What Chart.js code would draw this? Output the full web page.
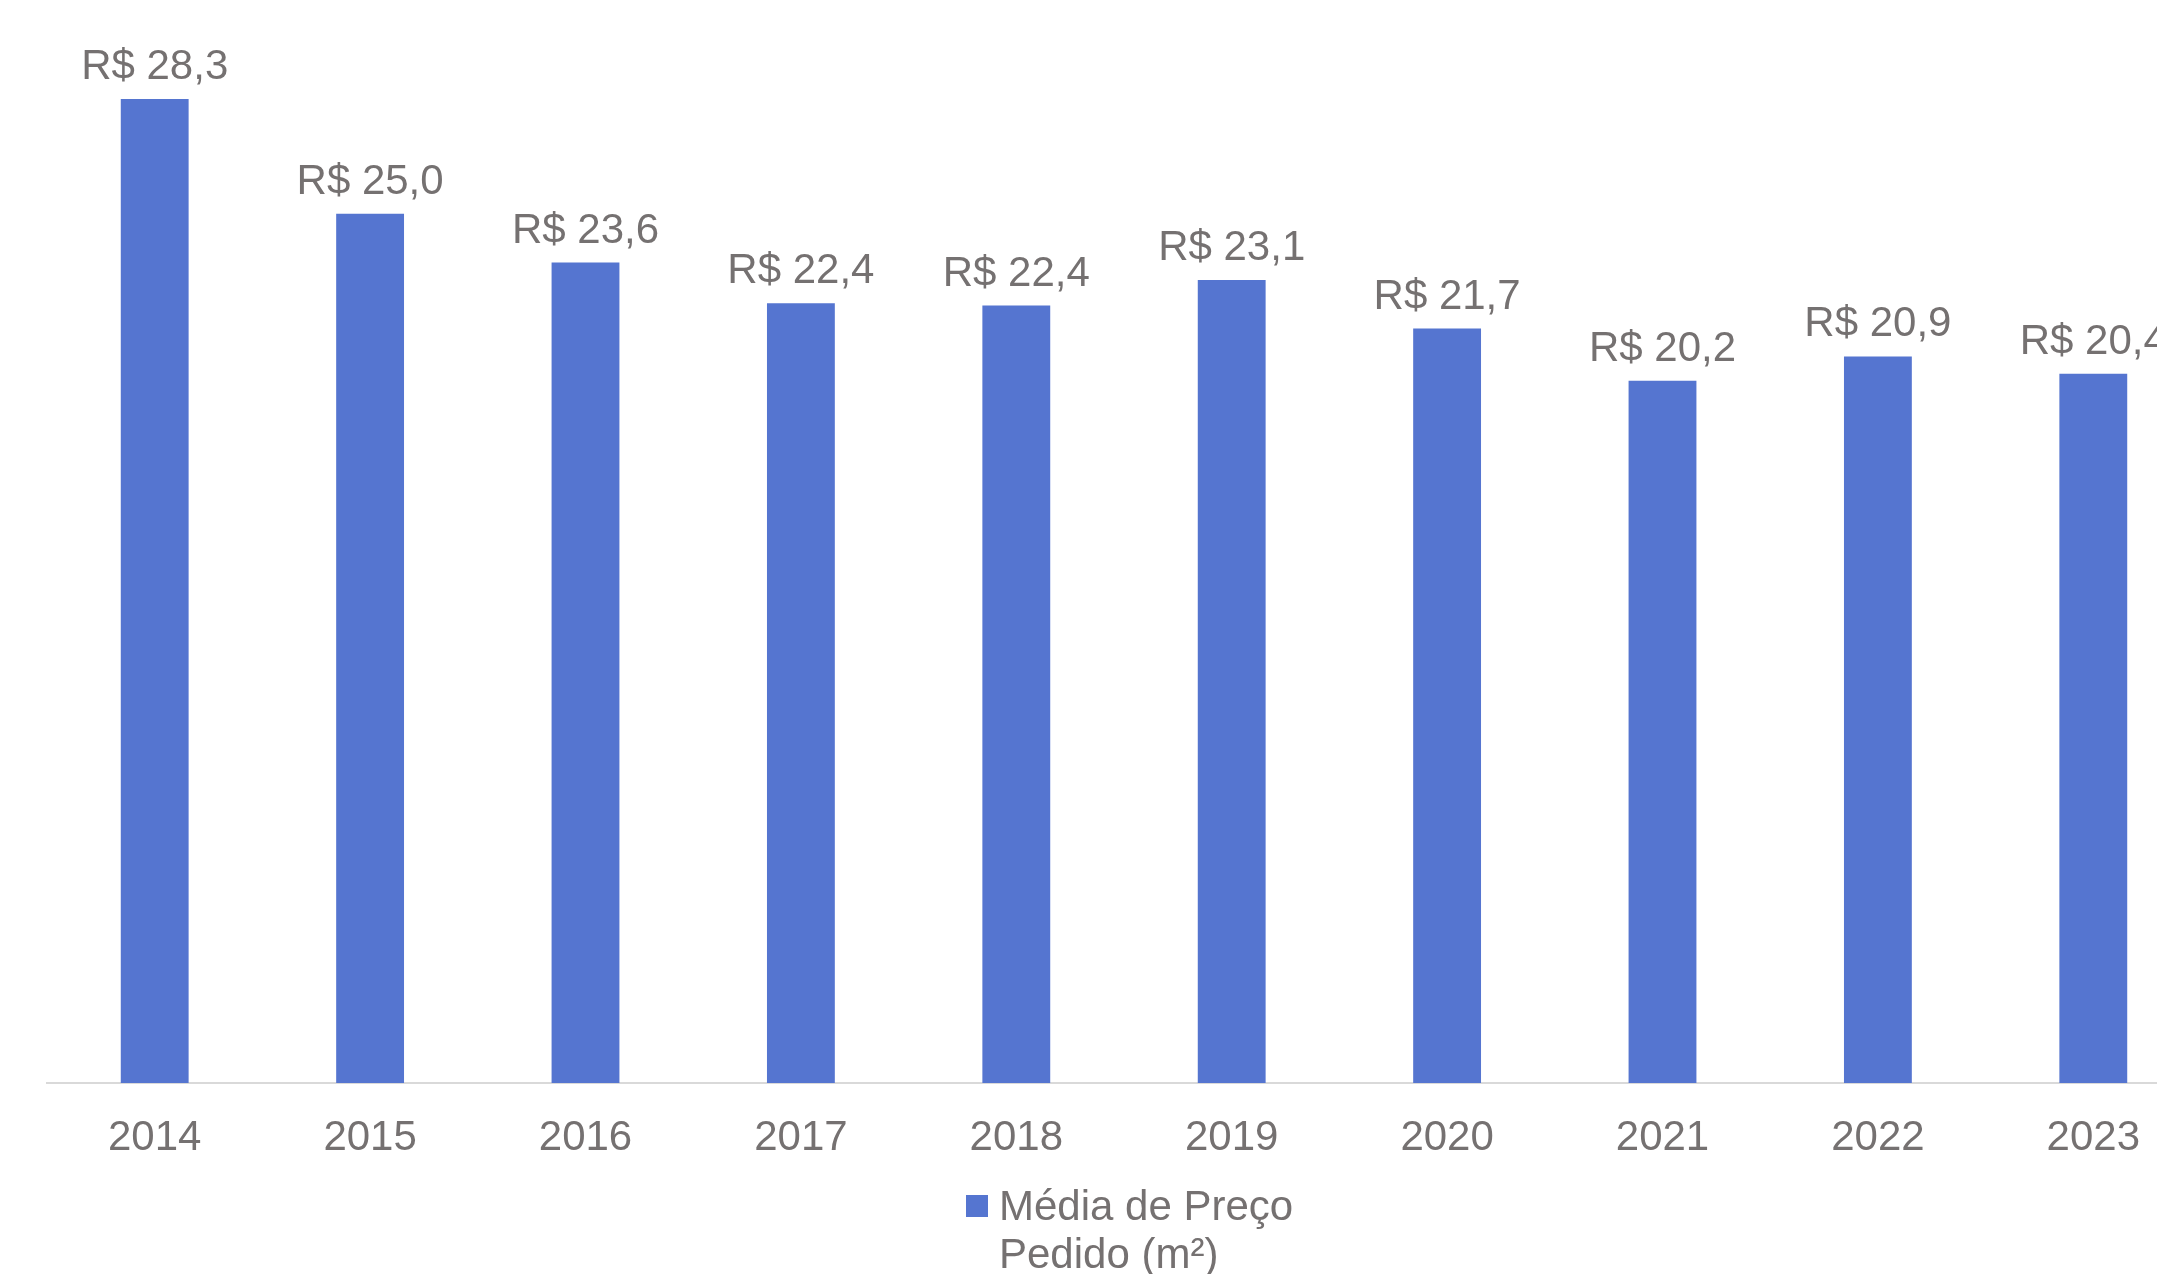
<!DOCTYPE html>
<html lang="pt-BR">
<head>
<meta charset="utf-8">
<title>Média de Preço Pedido (m²)</title>
<script src="https://cdn.jsdelivr.net/npm/chart.js@4/dist/chart.umd.min.js"></script>
<style>
  html, body { margin: 0; padding: 0; background: #ffffff; overflow: hidden; }
  #chart-box { position: relative; width: 2210px; height: 1274px; }
</style>
</head>
<body>
<div id="chart-box">
  <canvas id="my-chart"></canvas>
</div>
<script>
'use strict';

// ************************* GLOBAL VARIABLES ***************************

let years = ['2014', '2015', '2016', '2017', '2018', '2019', '2020', '2021', '2022', '2023'];
let avgPrice = [28.3, 25.0, 23.6, 22.43, 22.36, 23.1, 21.7, 20.2, 20.9, 20.4];
let seriesName = ['Média de Preço', 'Pedido (m²)'];

let barColor = '#5575d0';
let textColor = '#757171';
let fontFamily = "'Liberation Sans', Arial, sans-serif";

// ***************************** HELPERS ***************************

function formatReal(value) {
  return 'R$ ' + value.toFixed(1).replace('.', ',');
}

// ************************* PLUGINS ****************************

// value labels above each bar
let barLabels = {
  id: 'barLabels',
  afterDatasetsDraw(chart) {
    let ctx = chart.ctx;
    let meta = chart.getDatasetMeta(0);
    ctx.save();
    ctx.font = '42px ' + fontFamily;
    ctx.fillStyle = textColor;
    ctx.textAlign = 'center';
    ctx.textBaseline = 'alphabetic';
    meta.data.forEach(function (bar, i) {
      ctx.fillText(formatReal(avgPrice[i]), bar.x, bar.y - 20);
    });
    ctx.restore();
  }
};

// legend with the name split on two lines
let wrapLegend = {
  id: 'wrapLegend',
  afterDraw(chart) {
    let ctx = chart.ctx;
    let boxX = 966;
    let boxY = 1195;
    ctx.save();
    ctx.fillStyle = barColor;
    ctx.fillRect(boxX, boxY, 22, 22);
    ctx.font = '42px ' + fontFamily;
    ctx.fillStyle = textColor;
    ctx.textAlign = 'left';
    ctx.textBaseline = 'alphabetic';
    chart.data.datasets[0].label.forEach(function (line, i) {
      ctx.fillText(line, boxX + 33, 1220 + i * 48);
    });
    ctx.restore();
  }
};

// ********************** CHART ********************

let ctx = document.getElementById('my-chart').getContext('2d');

let myChartObj = {
  type: 'bar',
  data: {
    labels: years,
    datasets: [{
      label: seriesName,
      data: avgPrice,
      backgroundColor: barColor,
      borderWidth: 0,
      categoryPercentage: 0.315,
      barPercentage: 1
    }]
  },
  options: {
    responsive: true,
    maintainAspectRatio: false,
    animation: false,
    layout: {
      padding: { top: 40, left: 47, right: 9, bottom: 91 }
    },
    plugins: {
      legend: { display: false },
      tooltip: { enabled: false }
    },
    scales: {
      x: {
        grid: { display: false, drawTicks: false },
        border: { display: true, color: '#d9d9d9', width: 2 },
        ticks: {
          color: textColor,
          font: { family: fontFamily, size: 42 },
          padding: 30,
          maxRotation: 0,
          autoSkip: false
        },
        afterFit(scale) {
          scale.height = 100;
        }
      },
      y: {
        display: false,
        min: 0,
        max: 30
      }
    }
  },
  plugins: [barLabels, wrapLegend]
};

new Chart(ctx, myChartObj);
</script>
</body>
</html>
